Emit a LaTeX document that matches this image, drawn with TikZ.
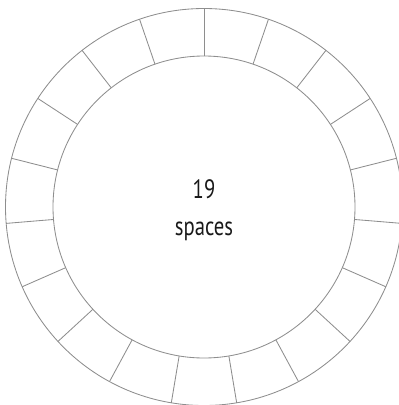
\documentclass[tikz,border=0pt]{standalone}
\usepackage{fontspec}
\setsansfont[FakeStretch=0.78]{PT Sans}
\usepackage{xcolor}
\usetikzlibrary{calc}

\definecolor{ringgray}{HTML}{8E8E8E}

\tikzset{
  ringline/.style={draw=ringgray, line width=0.85pt},
  centertext/.style={font=\sffamily\fontsize{26.5}{37}\selectfont, align=center, text=black!90}
}

\begin{document}
\begin{tikzpicture}[x=1pt, y=1pt]
  \useasboundingbox (0,0) rectangle (399,-405);
  \coordinate (ctr) at (204,-207);
  \draw[ringline] (ctr) circle (198.5);
  \draw[ringline] (ctr) circle (151);
  \foreach \k in {0,...,18}
    \draw[ringline] ($(ctr)+({90-\k*360/19}:151)$) -- ($(ctr)+({90-\k*360/19}:198.5)$);
  \node (count) [centertext] at (204,-210) {19\\spaces};
\end{tikzpicture}
\end{document}
